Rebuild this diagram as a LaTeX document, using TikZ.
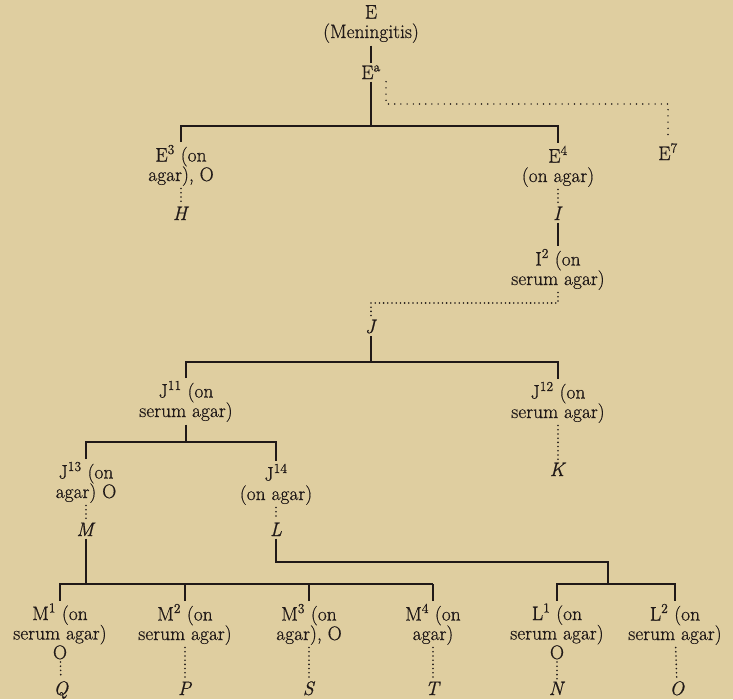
\documentclass[tikz,border=0pt]{standalone}
\usepackage{fontspec}
\setmainfont{Latin Modern Roman}[FakeBold=0.6]
\usepackage{xcolor}
\definecolor{paper}{RGB}{223,206,160}
\definecolor{ink}{RGB}{32,25,24}
\begin{document}
\begin{tikzpicture}[x=1pt,y=-1pt,
  lbl/.style={inner sep=2.5pt, align=center, anchor=base, text=ink,
    font=\fontsize{19.5}{19.5}\selectfont},
  solidline/.style={draw=ink, line width=1.1pt},
  dotline/.style={draw=ink, line width=1.8pt, line cap=round, dash pattern=on 0pt off 4.2pt},
  sparsedot/.style={draw=ink, line width=1.6pt, line cap=round, dash pattern=on 0pt off 6.2pt}]
\fill[paper] (0,0) rectangle (733,699);
\useasboundingbox (0,0) rectangle (733,699);

% nodes (coordinates = baseline of the last line)
\node[lbl] (E) at (371,38) {E\\(Meningitis)};
\node[lbl] (Ea) at (371,79) {E\textsuperscript{a}};
\node[lbl] (E7) at (668,160) {E\textsuperscript{7}};
\node[lbl] (E3) at (181,181) {E\textsuperscript{3} (on\\agar), O};
\node[lbl] (H) at (181,220) {\textit{H}};
\node[lbl] (E4) at (558,182) {E\textsuperscript{4}\\(on agar)};
\node[lbl] (I) at (558,220) {\textit{I}};
\node[lbl] (I2) at (558,285) {I\textsuperscript{2} (on\\serum agar)};
\node[lbl] (J) at (371,333) {\textit{J}};
\node[lbl] (J11) at (186,417) {J\textsuperscript{11} (on\\serum agar)};
\node[lbl] (J12) at (558,418) {J\textsuperscript{12} (on\\serum agar)};
\node[lbl] (K) at (558,476) {\textit{K}};
\node[lbl] (J13) at (86,498) {J\textsuperscript{13} (on\\agar) O};
\node[lbl] (J14) at (276,500) {J\textsuperscript{14}\\(on agar)};
\node[lbl] (M) at (86,536) {\textit{M}};
\node[lbl] (L) at (276,536) {\textit{L}};
\node[lbl] (M1) at (60,659) {M\textsuperscript{1} (on\\serum agar)\\O};
\node[lbl] (M2) at (185,640) {M\textsuperscript{2} (on\\serum agar)};
\node[lbl] (M3) at (309,640) {M\textsuperscript{3} (on\\agar), O};
\node[lbl] (M4) at (433,640) {M\textsuperscript{4} (on\\agar)};
\node[lbl] (L1) at (557,659) {L\textsuperscript{1} (on\\serum agar)\\O};
\node[lbl] (L2) at (675,640) {L\textsuperscript{2} (on\\serum agar)};
\node[lbl] (Q) at (61,695) {\textit{Q}};
\node[lbl] (P) at (185,695) {\textit{P}};
\node[lbl] (S) at (309,695) {\textit{S}};
\node[lbl] (T) at (433,695) {\textit{T}};
\node[lbl] (N) at (557,695) {\textit{N}};
\node[lbl] (Oi) at (677,695) {\textit{O}};

% bar coordinates
\coordinate (bE) at (371,126);
\coordinate (yE7) at (0,104);
\coordinate (yJ) at (0,303);
\coordinate (bJ) at (371,362);
\coordinate (bJ11) at (186,442);
\coordinate (bM) at (86,584);
\coordinate (kL) at (608,562);
\coordinate (bL) at (608,584);
\coordinate (bMl) at (59,584);

% solid connectors
\draw[solidline] (E) -- (Ea);
\draw[solidline] (Ea) -- (bE);
\draw[solidline] (E3.north) |- (bE) -| (E4.north);
\draw[solidline] (I) -- (I2);
\draw[solidline] (J) -- (bJ);
\draw[solidline] (J11.north) |- (bJ) -| (J12.north);
\draw[solidline] (J11) -- (bJ11);
\draw[solidline] (J13.north) |- (bJ11) -| (J14.north);
\draw[solidline] (M) -- (bM);
\draw[solidline] (bMl) -- (M4.north |- bM);
\draw[solidline] (M1.north) -- (M1.north |- bM);
\draw[solidline] (M2.north) -- (M2.north |- bM);
\draw[solidline] (M3.north) -- (M3.north |- bM);
\draw[solidline] (M4.north) -- (M4.north |- bM);
\draw[solidline] (L) |- (kL) -- (bL);
\draw[solidline] (L1.north) |- (bL) -| (L2.north);

% dotted connectors
\draw[sparsedot] ([xshift=15pt]Ea.south) |- (E7.north |- yE7) -- (E7.north);
\draw[dotline] (E3) -- (H);
\draw[dotline] (E4) -- (I);
\draw[dotline] (I2.south) |- (J.north |- yJ) -- (J.north);
\draw[dotline] (J12) -- (K);
\draw[dotline] (J13) -- (M);
\draw[dotline] (J14) -- (L);
\draw[dotline] (M1) -- (Q);
\draw[dotline] (M2) -- (P);
\draw[dotline] (M3) -- (S);
\draw[dotline] (M4) -- (T);
\draw[dotline] (L1) -- (N);
\draw[dotline] (L2) -- (Oi);
\end{tikzpicture}
\end{document}
